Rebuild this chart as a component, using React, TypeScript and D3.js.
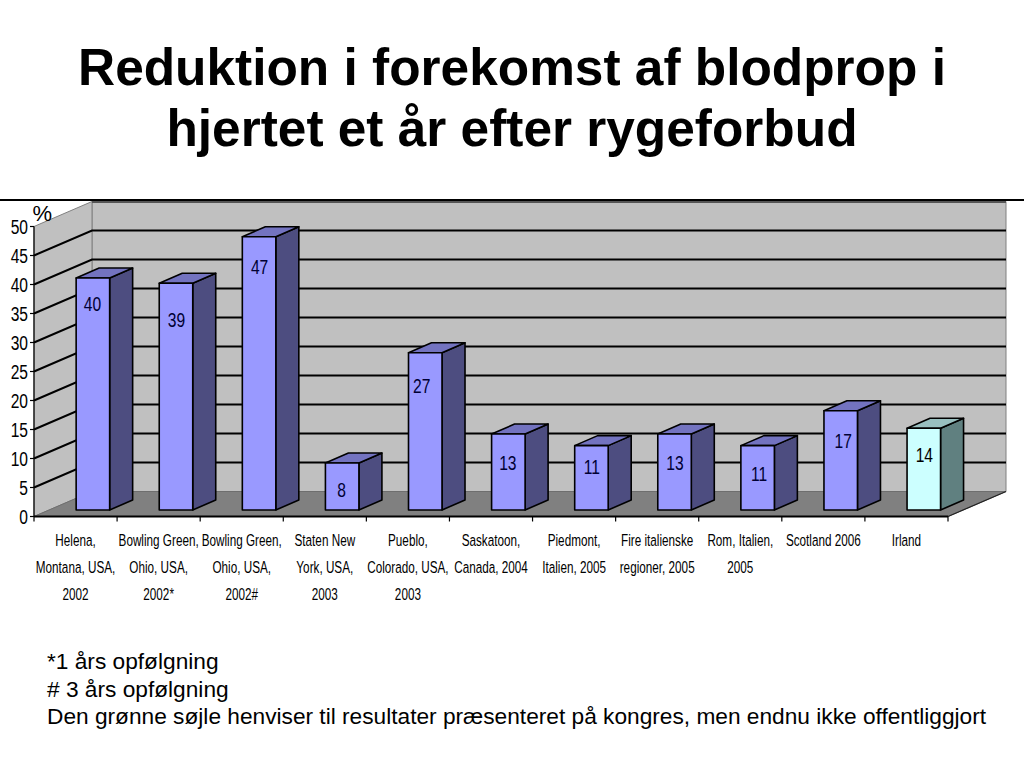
import React from "react";
import * as d3 from "d3";

const titleLines = ["Reduktion i forekomst af blodprop i", "hjertet et år efter rygeforbud"];
const categories = [
  "Helena, MT", "Bowling OH *", "Bowling OH #", "Staten", "Pueblo", "Saskatoon",
  "Piedmont", "Fire", "Rom", "Scotland", "Irland",
];
const categoryLabels = [
  ["Helena,", "Montana, USA,", "2002"],
  ["Bowling Green,", "Ohio, USA,", "2002*"],
  ["Bowling Green,", "Ohio, USA,", "2002#"],
  ["Staten New", "York, USA,", "2003"],
  ["Pueblo,", "Colorado, USA,", "2003"],
  ["Saskatoon,", "Canada, 2004"],
  ["Piedmont,", "Italien, 2005"],
  ["Fire italienske", "regioner, 2005"],
  ["Rom, Italien,", "2005"],
  ["Scotland 2006"],
  ["Irland"],
];
const values = [40, 39, 47, 8, 27, 13, 11, 13, 11, 17, 14];
const heights = [40, 39.1, 47.1, 8.1, 27.1, 13.1, 11.1, 13.1, 11.1, 17.1, 14.1];
const yTicks = [0, 5, 10, 15, 20, 25, 30, 35, 40, 45, 50];
const footnotes = [
  "*1 års opfølgning",
  "# 3 års opfølgning",
  "Den grønne søjle henviser til resultater præsenteret på kongres, men endnu ikke offentliggjort",
];

const labelNudgeY = [-1, 10, 3, 0, 6, 2, -6, 2, 1, 3, 0];
const labelNudgeX = [0, 1, 1, 0, -3, 0, 1, 1, 2, 3, 1];

const depthX = 58;
const depthY = 25;
const barOffX = 0.6;
const barOffY = 6.5;
const barW = 33.5;
const barDX = 23;
const barDY = 10;
const sans = "'Liberation Sans', Arial, sans-serif";

const x = d3.scaleBand<string>().domain(categories).range([34, 948]);
const y = d3.scaleLinear().domain([0, 50]).range([516.5, 226.5]);

const poly = (pts: [number, number][]) => {
  const p = d3.path();
  pts.forEach(([a, b], i) => (i ? p.lineTo(a, b) : p.moveTo(a, b)));
  p.closePath();
  return p.toString();
};

export default function App() {
  const xL = x.range()[0];
  const xR = x.range()[1];
  const y0 = y(0);
  const y50 = y(50);
  return (
    <svg
      width={1024}
      height={768}
      style={{ position: "absolute", left: 0, top: 0, background: "#fff" }}
      fontFamily={sans}
    >
      {titleLines.map((t, i) => (
        <text key={t} x={512} y={85 + i * 61} textAnchor="middle" fontSize={51.4} fontWeight="bold" fill="#000">
          {t}
        </text>
      ))}
      <line x1={0} x2={1024} y1={200} y2={200} stroke="#000" strokeWidth={2} />

      {/* walls and floor */}
      <path d={poly([[xL + depthX, y50 - depthY], [xR + depthX, y50 - depthY], [xR + depthX, y0 - depthY], [xL + depthX, y0 - depthY]])} fill="#c0c0c0" stroke="#808080" />
      <path d={poly([[xL, y50], [xL + depthX, y50 - depthY], [xL + depthX, y0 - depthY], [xL, y0]])} fill="#c0c0c0" stroke="#808080" />
      <path d={poly([[xL, y0], [xL + depthX, y0 - depthY], [xR + depthX, y0 - depthY], [xR, y0]])} fill="#808080" stroke="#6e6e6e" />
      <line x1={xL + depthX} x2={xR + depthX} y1={y50 - depthY + 0.5} y2={y50 - depthY + 0.5} stroke="#555" strokeWidth={2} />

      {yTicks.filter((t) => t > 0 && t < 50).map((t) => (
        <path key={t} d={d3.line()([[xL, y(t)], [xL + depthX, y(t) - depthY], [xR + depthX, y(t) - depthY]]) ?? ""} fill="none" stroke="#000" strokeWidth={2} />
      ))}

      {/* axes */}
      <line x1={xL} x2={xL} y1={y50} y2={y0} stroke="#000" strokeWidth={1.2} />
      <line x1={xL} x2={xR} y1={y0} y2={y0} stroke="#000" strokeWidth={2} />
      <line x1={xR} x2={xR + depthX} y1={y0} y2={y0 - depthY} stroke="#222" strokeWidth={1.2} />
      {yTicks.map((t) => (
        <g key={t}>
          <line x1={xL - 4} x2={xL} y1={y(t)} y2={y(t)} stroke="#000" strokeWidth={1.2} />
          <text
            transform={`translate(28,${y(t) + 7}) scale(0.8,1)`}
            textAnchor="end"
            fontSize={19.5}
            fill="#000"
          >
            {t}
          </text>
        </g>
      ))}
      {[...categories.map((c) => x(c) as number), xR].map((tx) => (
        <line key={tx} x1={tx} x2={tx} y1={y0} y2={y0 + 5} stroke="#000" strokeWidth={1.2} />
      ))}
      <text x={32.5} y={221} fontSize={22} fill="#000">%</text>

      {/* bars */}
      {categories.map((c, i) => {
        const irl = c === "Irland";
        const front = irl ? "#ccffff" : "#9999ff";
        const top = irl ? "#99c0c0" : "#7373c0";
        const side = irl ? "#608080" : "#4d4d80";
        const left = (x(c) as number) + x.bandwidth() / 2 + barOffX;
        const r = left + barW;
        const b = y0 - barOffY;
        const t = b - (y(0) - y(heights[i]));
        return (
          <g key={c} stroke="#000" strokeWidth={1.6} strokeLinejoin="round">
            <path d={poly([[r, b], [r + barDX, b - barDY], [r + barDX, t - barDY], [r, t]])} fill={side} />
            <path d={poly([[left, t], [left + barDX, t - barDY], [r + barDX, t - barDY], [r, t]])} fill={top} />
            <path d={poly([[left, b], [r, b], [r, t], [left, t]])} fill={front} />
            <text
              transform={`translate(${left + barW / 2 - 0.5 + labelNudgeX[i]},${t + 34 + labelNudgeY[i]}) scale(0.8,1)`}
              textAnchor="middle"
              fontSize={19.5}
              fill={irl ? "#000" : "#000033"}
              stroke="none"
            >
              {values[i]}
            </text>
          </g>
        );
      })}

      {/* category labels */}
      {categories.map((c, i) =>
        categoryLabels[i].map((line, j) => (
          <text
            key={line + j}
            transform={`translate(${(x(c) as number) + x.bandwidth() / 2},${545.5 + j * 27}) scale(0.69,1)`}
            textAnchor="middle"
            fontSize={17}
            fill="#000"
          >
            {line}
          </text>
        ))
      )}

      {footnotes.map((f, i) => (
        <text key={f} x={47} y={669 + i * 27.5} fontSize={22.7} fill="#000">
          {f}
        </text>
      ))}
    </svg>
  );
}
